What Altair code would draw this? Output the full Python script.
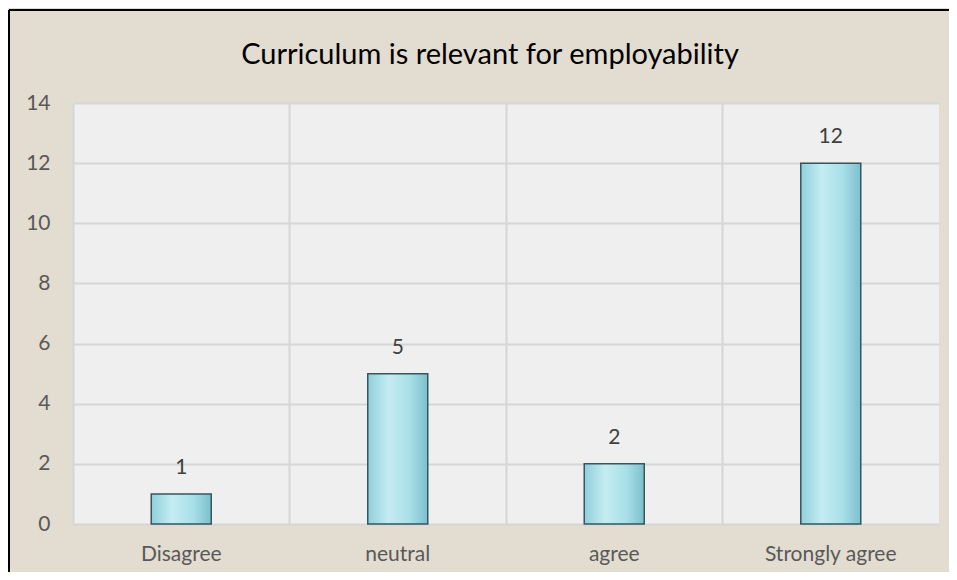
import altair as alt
import pandas as pd

categories = ["Disagree", "neutral", "agree", "Strongly agree"]
counts = [1, 5, 2, 12]
y_ticks = [0, 2, 4, 6, 8, 10, 12, 14]
title_text = ["Curriculum is relevant for employability"]

df = pd.DataFrame({"category": categories, "count": counts})
tdf = pd.DataFrame({"title": title_text})

FONT = "Lato"
W, H = 866, 421

x_enc = alt.X(
    "category:N",
    sort=categories,
    scale=alt.Scale(paddingInner=0, paddingOuter=0),
    axis=alt.Axis(
        title=None, labelAngle=0, labelFontSize=21, labelColor="#595959",
        labelFont=FONT, labelPadding=19, ticks=False, domain=False,
        grid=True, bandPosition=0, gridColor="#d6d6d6", gridWidth=2,
    ),
)
y_enc = alt.Y(
    "count:Q",
    scale=alt.Scale(domain=[0, 14], nice=False),
    axis=alt.Axis(
        title=None, values=y_ticks, labelFontSize=21, labelColor="#595959",
        labelFont=FONT, labelPadding=23, ticks=False, domain=False,
        gridColor="#d6d6d6", gridWidth=2,
    ),
)

bar_fill = alt.Gradient(
    gradient="linear", x1=0, x2=1, y1=0, y2=0,
    stops=[
        alt.GradientStop(color="#8fd0dc", offset=0),
        alt.GradientStop(color="#c4ecf2", offset=0.35),
        alt.GradientStop(color="#a9dfe8", offset=0.7),
        alt.GradientStop(color="#7cbfcc", offset=1),
    ],
)

bars = alt.Chart(df).mark_bar(
    size=60, fill=bar_fill, stroke="#35575e", strokeWidth=1.5
).encode(x=x_enc, y=y_enc)

labels = alt.Chart(df).mark_text(
    dy=-26, fontSize=21, color="#404040", font=FONT
).encode(x=alt.X("category:N", sort=categories), y="count:Q", text="count:Q")

title = alt.Chart(tdf).mark_text(
    font=FONT, fontSize=29, color="#000000", align="center", baseline="alphabetic"
).encode(text="title:N", x=alt.value(417), y=alt.value(-39))

frame_left = alt.Chart(df).mark_rule(color="#000000", strokeWidth=2).encode(
    x=alt.value(-64), y=alt.value(-93), y2=alt.value(H + 60)
)
frame_top = alt.Chart(df).mark_rule(color="#000000", strokeWidth=2).encode(
    x=alt.value(-64), x2=alt.value(W + 10), y=alt.value(-93)
)

chart = (
    alt.layer(bars, labels, title, frame_left, frame_top)
    .properties(
        width=W, height=H,
        autosize=alt.AutoSizeParams(type="none"),
        padding={"left": 65, "top": 95, "right": 10, "bottom": 48},
        background="#e3dcd0",
    )
    .configure_view(fill="#efefef", stroke=None)
)

chart.save("out.html", embed_options={"renderer": "svg", "actions": False})
